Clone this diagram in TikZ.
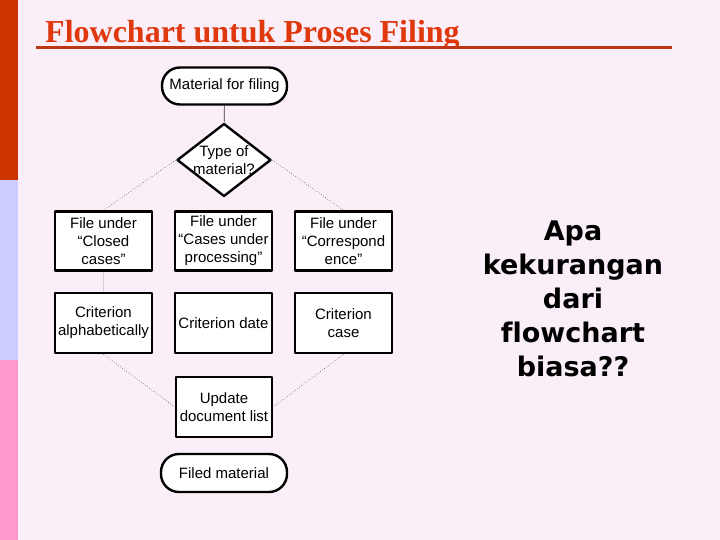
\documentclass[tikz,border=0pt]{standalone}
\usepackage{fontspec}
\setmainfont{Liberation Sans}
\newfontfamily\judulfont{Liberation Serif Bold}
\newfontfamily\tanyafont[Ligatures=NoCommon]{DejaVu Sans Bold}
\usetikzlibrary{shapes.geometric}
\definecolor{latar}{RGB}{250,238,248}
\definecolor{merah}{RGB}{204,51,0}
\definecolor{ungu}{RGB}{204,204,255}
\definecolor{merahmuda}{RGB}{255,153,204}
\definecolor{judul}{RGB}{222,56,12}
\definecolor{garisjudul}{RGB}{190,55,20}

\begin{document}
\begin{tikzpicture}[x=1pt,y=-1pt,line join=round,
	font=\fontsize{15}{18}\selectfont,
	kotak/.style={draw,line width=2.4pt,fill=white,align=center,inner sep=0pt,
		minimum width=97pt,minimum height=59pt},
	ujung/.style={draw,line width=2.4pt,fill=white,rounded corners=18pt,inner sep=0pt,
		minimum height=37pt},
	titik/.style={dotted,gray!60!black,line width=0.6pt}]
		% latar dan pita kiri
		\fill[latar] (0,0) rectangle (720,540);
		\fill[merah] (0,0) rectangle (18,180);
		\fill[ungu] (0,180) rectangle (18,360);
		\fill[merahmuda] (0,360) rectangle (18,540);
		
		\node[anchor=base west,inner sep=0pt,text=judul,font=\judulfont\fontsize{32}{36}\selectfont]
		(judul) at (45,43) {Flowchart untuk Proses Filing};
		\draw[garisjudul,line width=3pt] (36,48)--(672,48);
		
		\node[ujung,minimum width=125pt] (bahan) at (224.5,86) {Material for filing};
		\node[diamond,draw,line width=2.4pt,fill=white,inner sep=0pt,minimum width=94pt,minimum height=73pt,
		label={[align=center]center:Type of\\material?}] (jenis) at (224,160) {};
		
		\node[kotak] (tutup) at (103.5,241) {File under\\\char"201C Closed\\cases\char"201D};
		\node[kotak] (proses) at (223.5,241) {File under\\\char"201C Cases under\\processing\char"201D};
		\node[kotak] (surat) at (343.5,241) {File under\\\char"201C Correspond\\ence\char"201D};
		
		\node[kotak,minimum height=60pt] (abjad) at (103.5,323) {Criterion\\alphabetically};
		\node[kotak,minimum height=60pt] (tanggal) at (223.5,323) {Criterion date};
		\node[kotak,minimum height=60pt] (kasus) at (343.5,323) {Criterion\\case};
		
		\node[kotak,minimum width=96pt,minimum height=60pt] (daftar) at (224,407) {Update\\document list};
		\node[ujung,minimum width=126pt,minimum height=38pt] (arsip) at (224,473) {Filed material};
		
		\draw[gray!40!black,line width=0.7pt] (bahan)--(jenis);
		\draw[titik] (jenis.west)--(tutup.north);
		\draw[titik] (jenis.east)--(surat.north);
		\draw[gray!35,line width=0.8pt] (tutup)--(abjad);
		\draw[titik] (abjad.south)--(daftar.west);
		\draw[titik] (kasus.south)--(daftar.east);
		
		\node[align=center,font=\tanyafont\fontsize{27}{34}\selectfont] (tanya) at (573,299)
		{Apa\\kekurangan\\dari\\flowchart\\biasa??};
\end{tikzpicture}
\end{document}
